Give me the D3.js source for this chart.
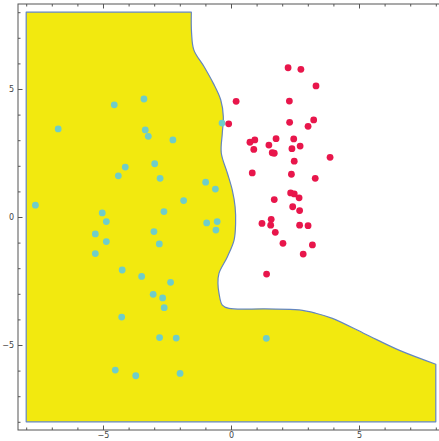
<!DOCTYPE html>
<html lang="en">

<head>
  <meta charset="UTF-8">
  <title>Decision region</title>
  <style>
    body {
      margin: 0;
      background: #fff;
    }

    #container {
      width: 439px;
      height: 441px;
    }

    .tick text {
      font-family: "DejaVu Sans", sans-serif;
      font-size: 8px;
      fill: #444;
    }

    .tick line {
      stroke: #555;
    }
  </style>
</head>

<body>
  <div id="container"></div>
  <script src="https://cdn.jsdelivr.net/npm/d3@7"></script>
  <script>
    // class A points (cyan)
    const cyanX = [-6.75, -4.56, -3.40, -3.35, -3.23, -2.27, -0.35, -7.64, -5.03, -4.87,
      -5.30, -4.87, -5.30, -4.13, -4.40, -2.98, -2.77, -1.85, -2.62, -3.01,
      -2.80, -0.99, -0.61, -0.95, -0.54, -0.59, -4.25, -3.49, -2.36, -3.04,
      -2.67, -2.61, -4.27, -2.79, -2.14, -4.52, -3.72, -1.99, 1.38];
    const cyanY = [3.44, 4.38, 4.61, 3.40, 3.15, 3.01, 3.67, 0.46, 0.16, -0.18,
      -0.66, -0.96, -1.43, 1.95, 1.61, 2.08, 1.51, 0.64, 0.21, -0.57,
      -1.05, 1.36, 1.09, -0.23, -0.18, -0.51, -2.07, -2.32, -2.55, -3.02,
      -3.16, -3.54, -3.91, -4.71, -4.73, -5.98, -6.20, -6.11, -4.74];

    // class B points (red)
    const redX = [2.23, 2.73, 3.32, 0.20, 2.28, -0.09, 2.29, 3.23, 3.01, 0.74,
      0.93, 0.89, 1.76, 1.48, 2.45, 2.70, 2.38, 1.61, 1.69, 2.47,
      3.87, 0.83, 2.36, 3.29, 2.33, 2.47, 2.66, 1.69, 2.41, 2.68,
      1.57, 1.21, 1.55, 2.68, 3.01, 1.73, 2.03, 3.18, 2.82, 1.39];
    const redY = [5.83, 5.77, 5.12, 4.52, 4.53, 3.64, 3.70, 3.79, 3.54, 2.92,
      3.01, 2.64, 3.06, 2.81, 3.05, 2.77, 2.67, 2.51, 2.49, 2.18,
      2.33, 1.72, 1.67, 1.51, 0.94, 0.90, 0.75, 0.68, 0.40, 0.25,
      -0.09, -0.25, -0.32, -0.32, -0.34, -0.60, -1.03, -1.09, -1.45, -2.23];

    // curved edge of the yellow region, top to right side
    const edgeX = [-1.55, -1.54, -1.45, -1.05, -0.69, -0.40, -0.30, -0.34, -0.38,
      -0.14, 0.05, 0.16, 0.18, 0.12, -0.14, -0.47, -0.51, -0.47, -0.34,
      -0.08, 1.36, 2.66, 3.31, 3.96, 5.26, 6.56, 8.0];
    const edgeY = [8, 7.19, 6.52, 5.87, 5.22, 4.57, 3.92, 3.27, 2.5,
      1.71, 1.05, 0.40, -0.25, -0.90, -1.55, -2.20, -2.59, -2.97, -3.44,
      -3.57, -3.59, -3.63, -3.76, -3.96, -4.58, -5.20, -5.75];
    // straight corners of the region
    const cornerX = [8, -8, -8];
    const cornerY = [-8, -8, 8];

    const majorTicks = [-5, 0, 5];
    const minorTicks = d3.range(-8, 9).filter(d => majorTicks.indexOf(d) < 0);

    let width = 439, height = 441;
    let padLeft = 18, padTop = 4, size = 426;

    let x = d3.scaleLinear().domain([-8.32, 8.32]).range([padLeft, padLeft + size]);
    let y = d3.scaleLinear().domain([-8.32, 8.32]).range([padTop + size, padTop]);

    let svg = d3.select('#container').append('svg')
      .attr('width', width)
      .attr('height', height);

    // region path: curve then straight corners
    let curve = d3.line()
      .x(i => x(edgeX[i]))
      .y(i => y(edgeY[i]))
      .curve(d3.curveCatmullRom.alpha(0.5));
    let corners = d3.range(cornerX.length)
      .map(i => 'L' + x(cornerX[i]) + ',' + y(cornerY[i])).join('');
    let regionPath = curve(d3.range(edgeX.length)) + corners + 'Z';

    svg.append('path')
      .attr('d', regionPath)
      .attr('fill', '#f2e90f')
      .attr('stroke', '#6486bf')
      .attr('stroke-width', 1.2)
      .attr('stroke-linejoin', 'round');

    function drawPoints(xs, ys, color) {
      svg.append('g')
        .selectAll('circle')
        .data(d3.range(xs.length))
        .join('circle')
        .attr('cx', i => x(xs[i]))
        .attr('cy', i => y(ys[i]))
        .attr('r', 3.4)
        .attr('fill', color);
    }
    drawPoints(cyanX, cyanY, '#6fcdc9');
    drawPoints(redX, redY, '#e8164b');

    // frame
    svg.append('rect')
      .attr('x', padLeft)
      .attr('y', padTop)
      .attr('width', size)
      .attr('height', size)
      .attr('fill', 'none')
      .attr('stroke', '#555')
      .attr('stroke-width', 1);

    function addAxis(axis, tx, ty, values, len, labels, pad) {
      let g = svg.append('g')
        .attr('transform', `translate(${tx},${ty})`)
        .call(axis.tickValues(values).tickSizeInner(-len).tickSizeOuter(0)
          .tickPadding(pad || 5).tickFormat(labels ? d => d < 0 ? '\u2212' + (-d) : d : ''));
      g.select('.domain').remove();
      return g;
    }

    // bottom / top
    addAxis(d3.axisBottom(x), 0, padTop + size, majorTicks, 4.5, true, 2.5);
    addAxis(d3.axisBottom(x), 0, padTop + size, minorTicks, 2.5, false);
    addAxis(d3.axisTop(x), 0, padTop, majorTicks, 4.5, false);
    addAxis(d3.axisTop(x), 0, padTop, minorTicks, 2.5, false);
    // left
    addAxis(d3.axisLeft(y), padLeft, 0, majorTicks, 4.5, true, 4);
    addAxis(d3.axisLeft(y), padLeft, 0, minorTicks, 2.5, false);

  </script>
</body>

</html>
